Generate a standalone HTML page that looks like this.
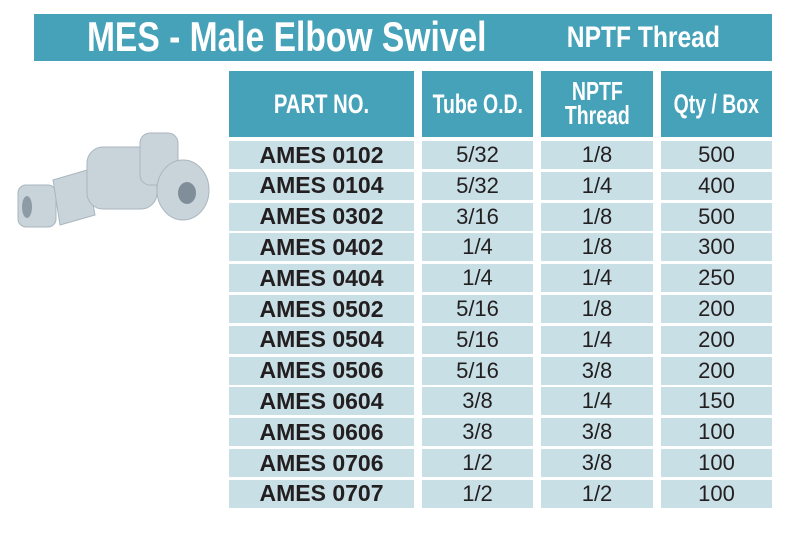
<!DOCTYPE html><html><head><style>
body{margin:0;width:789px;height:543px;background:#fff;position:relative;overflow:hidden;font-family:"Liberation Sans",sans-serif}
.a{position:absolute}
.t{background:#46a2b9;color:#fff}
.h{font-weight:bold;display:flex;align-items:center;justify-content:center;text-align:center;line-height:.92;white-space:nowrap}
.h span{display:inline-block}
.c{background:#c8dfe6;color:#231f20;font-size:22px;display:flex;align-items:center;justify-content:center}
.b{font-weight:bold;font-size:23px}
</style></head><body>
<div class="a t" style="left:34px;top:14px;width:738px;height:47px"></div>
<div class="a h" style="left:37px;top:14px;width:500px;height:47px;color:#fff;font-size:42px"><span style="transform:scaleX(.8)">MES - Male Elbow Swivel</span></div>
<div class="a h" style="left:543px;top:14px;width:200px;height:47px;color:#fff;font-size:30px"><span style="transform:scaleX(.82)">NPTF Thread</span></div>
<div class="a t h" style="left:229px;top:71px;width:185px;height:66px;font-size:27px"><span style="transform:scaleX(.75)">PART NO.</span></div>
<div class="a t h" style="left:422px;top:71px;width:111px;height:66px;font-size:27px"><span style="transform:scaleX(.72)">Tube O.D.</span></div>
<div class="a t h" style="left:541px;top:71px;width:112px;height:66px;font-size:26px"><span style="transform:scaleX(.75)">NPTF<br>Thread</span></div>
<div class="a t h" style="left:661px;top:71px;width:111px;height:66px;font-size:27px"><span style="transform:scaleX(.72)">Qty / Box</span></div>
<div id="rows"></div>
<svg class="a" style="left:15px;top:125px" width="200" height="105" viewBox="0 0 200 105">
<g fill="#c9d3da" stroke="#a9b6bf" stroke-width="1">
<rect x="3" y="60" width="38" height="42" rx="8"/>
<polygon points="38,55 72,45 80,90 45,100"/>
<rect x="72" y="22" width="70" height="62" rx="16"/>
<rect x="125" y="8" width="38" height="52" rx="10"/>
<ellipse cx="168" cy="65" rx="26" ry="30"/>
</g>
<ellipse cx="172" cy="68" rx="9" ry="11" fill="#7f8e98"/>
<ellipse cx="12" cy="82" rx="5" ry="11" fill="#8d9ba4"/>
</svg>
<script>
var d=[["0102","5/32","1/8","500"],["0104","5/32","1/4","400"],["0302","3/16","1/8","500"],["0402","1/4","1/8","300"],["0404","1/4","1/4","250"],["0502","5/16","1/8","200"],["0504","5/16","1/4","200"],["0506","5/16","3/8","200"],["0604","3/8","1/4","150"],["0606","3/8","3/8","100"],["0706","1/2","3/8","100"],["0707","1/2","1/2","100"]];
var xs=[[229,185],[422,111],[541,112],[661,111]],h="";
d.forEach(function(r,i){var y=141+i*30.8;
xs.forEach(function(x,j){h+='<div class="a c'+(j==0?' b':'')+'" style="left:'+x[0]+'px;top:'+y+'px;width:'+x[1]+'px;height:28px">'+(j==0?'AMES '+r[0]:r[j])+'</div>';});});
document.getElementById('rows').innerHTML=h;
</script>
</body></html>
